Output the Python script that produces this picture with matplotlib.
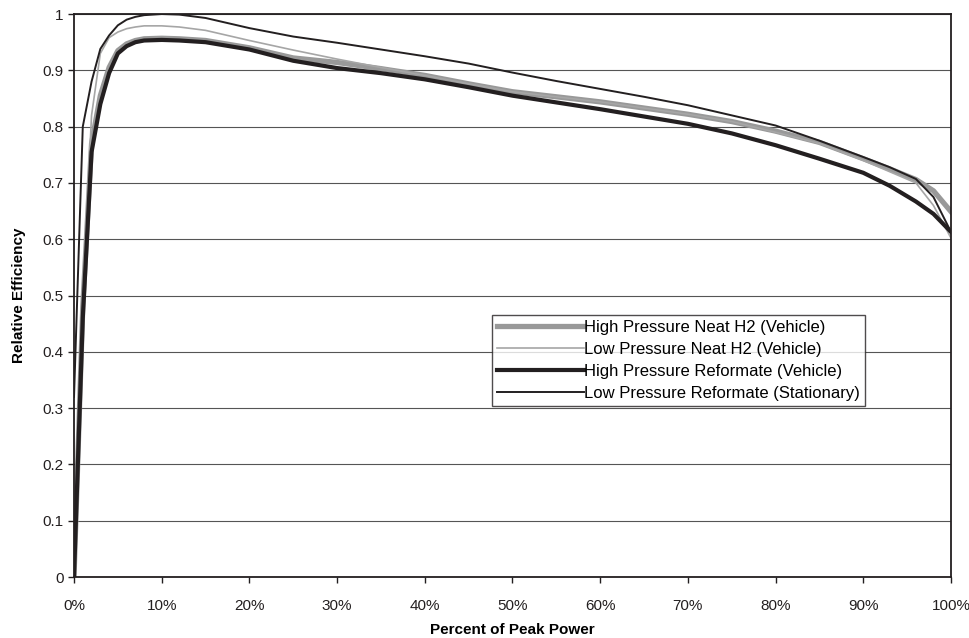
import numpy as np
import matplotlib
matplotlib.use('Agg')
import matplotlib.pyplot as plt
from matplotlib.ticker import FuncFormatter, MultipleLocator

plt.rcParams['font.family'] = ['Liberation Sans', 'DejaVu Sans']

# percent of peak power
pct = [0, 1, 2, 3, 4, 5, 6, 7, 8, 10, 12, 15, 20, 25, 30, 35, 40, 45, 50,
       55, 60, 65, 70, 75, 80, 85, 90, 93, 96, 98, 100]

hp_neat = [0, 0.48, 0.77, 0.855, 0.905, 0.935, 0.947, 0.953, 0.956, 0.957, 0.956,
           0.953, 0.94, 0.922, 0.914, 0.903, 0.891, 0.876, 0.862, 0.853, 0.844,
           0.833, 0.822, 0.809, 0.792, 0.772, 0.743, 0.725, 0.706, 0.686, 0.649]
lp_neat = [0, 0.5, 0.82, 0.93, 0.958, 0.968, 0.974, 0.977, 0.979, 0.979, 0.977,
           0.971, 0.953, 0.936, 0.92, 0.905, 0.891, 0.876, 0.862, 0.853, 0.844,
           0.833, 0.822, 0.809, 0.79, 0.77, 0.74, 0.72, 0.7, 0.66, 0.602]
hp_ref = [0, 0.46, 0.755, 0.84, 0.895, 0.93, 0.943, 0.95, 0.953, 0.954, 0.953,
          0.95, 0.937, 0.917, 0.904, 0.895, 0.884, 0.87, 0.855, 0.843, 0.831,
          0.818, 0.805, 0.788, 0.767, 0.743, 0.718, 0.695, 0.667, 0.645, 0.613]
lp_ref = [0.32, 0.80, 0.88, 0.938, 0.962, 0.98, 0.99, 0.995, 0.998, 1.0, 0.999,
          0.993, 0.975, 0.96, 0.949, 0.937, 0.925, 0.912, 0.896, 0.881, 0.867,
          0.853, 0.838, 0.82, 0.802, 0.775, 0.746, 0.728, 0.707, 0.675, 0.613]

labels = ['High Pressure Neat H2 (Vehicle)', 'Low Pressure Neat H2 (Vehicle)',
          'High Pressure Reformate (Vehicle)', 'Low Pressure Reformate (Stationary)']

fig = plt.figure(figsize=(9.7, 6.38), dpi=100)
ax = fig.add_axes([0.0763, 0.0956, 0.9041, 0.8824])

x = np.array(pct) / 100.0
ax.plot(x, hp_neat, color='#999999', lw=3.8, label=labels[0], solid_joinstyle='round')
ax.plot(x, lp_neat, color='#a6a6a6', lw=1.2, label=labels[1])
ax.plot(x, hp_ref, color='#231f20', lw=3.0, label=labels[2], solid_joinstyle='round')
ax.plot(x, lp_ref, color='#231f20', lw=1.4, label=labels[3])

ax.set_xlim(0, 1)
ax.set_ylim(0, 1)
ax.xaxis.set_major_locator(MultipleLocator(0.1))
ax.yaxis.set_major_locator(MultipleLocator(0.1))
ax.xaxis.set_major_formatter(FuncFormatter(lambda v, p: '%d%%' % round(v * 100)))
ax.yaxis.set_major_formatter(FuncFormatter(lambda v, p: '%g' % round(v, 1)))
ax.grid(axis='y', color='#555555', lw=0.8)
ax.set_axisbelow(True)
for s in ax.spines.values():
    s.set_color('#231f20')
    s.set_linewidth(1.3)
ax.tick_params(direction='out', length=4, width=1, colors='#231f20', labelsize=11)
ax.tick_params(axis='x', pad=12)

ax.set_xlabel('Percent of Peak Power', fontsize=11, fontweight='bold', labelpad=7)
ax.set_ylabel('Relative Efficiency', fontsize=11, fontweight='bold', labelpad=12)

leg = ax.legend(loc='upper left', bbox_to_anchor=(0.477, 0.465), fontsize=12,
                frameon=True, fancybox=False, handlelength=5.2, handletextpad=0.0,
                borderpad=0.3, labelspacing=0.42, borderaxespad=0)
leg.get_frame().set_edgecolor('#231f20')
leg.get_frame().set_linewidth(1.0)

fig.savefig('out.png', dpi=100)
